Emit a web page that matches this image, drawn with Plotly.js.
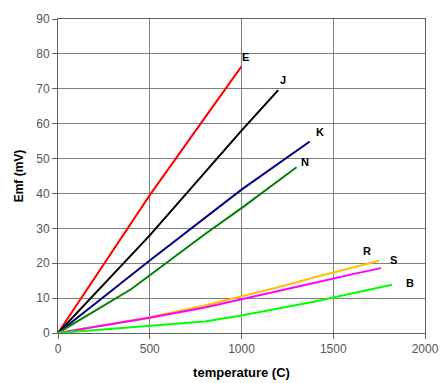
<!DOCTYPE html>
<html>
<head>
<meta charset="utf-8">
<script src="https://cdn.plot.ly/plotly-3.0.1.min.js"></script>
<style>html,body{margin:0;padding:0;background:#fff;}#chart{width:440px;height:383px;}</style>
</head>
<body>
<div id="chart"></div>
<script>
// Thermocouple EMF (mV) vs temperature (C)
const names = ["E", "J", "K", "N", "R", "S", "B"];
const tempE = [0, 500, 1000];
const emfE  = [0, 39.5, 76.4];
const tempJ = [0, 500, 1000, 1200];
const emfJ  = [0, 28.0, 58.0, 69.6];
const tempK = [0, 500, 1000, 1372];
const emfK  = [0, 20.8, 41.1, 54.9];
const tempN = [0, 400, 800, 1000, 1300];
const emfN  = [0, 12.6, 28.3, 35.8, 47.5];
const tempR = [0, 500, 800, 1000, 1200, 1400, 1600, 1750];
const emfR  = [0, 4.5, 7.9, 10.4, 13.1, 16.0, 18.8, 20.7];
const tempS = [0, 500, 800, 1000, 1200, 1400, 1600, 1760];
const emfS  = [0, 4.4, 7.3, 9.6, 12.0, 14.4, 16.8, 18.6];
const tempB = [0, 800, 1000, 1200, 1400, 1600, 1820];
const emfB  = [0, 3.3, 5.0, 6.9, 9.0, 11.3, 13.8];

const temps = [tempE, tempJ, tempK, tempN, tempR, tempS, tempB];
const emfs  = [emfE, emfJ, emfK, emfN, emfR, emfS, emfB];
const colors = ["#ff0000", "#000000", "#000080", "#008000", "#ffc000", "#ff00ff", "#00ff00"];
const labelShift = [[4, 9], [5, 10], [10, 9], [8, 5], [-12, 10], [13, 8], [18, 2]];

const xTicks = [0, 500, 1000, 1500, 2000];
const yTicks = [0, 10, 20, 30, 40, 50, 60, 70, 80, 90];
const FONT = "Liberation Sans, Arial, sans-serif";

const traces = names.map((n, i) => ({
  type: "scatter", mode: "lines", name: n,
  x: temps[i], y: emfs[i],
  line: {color: colors[i], width: 2},
  hoverinfo: "skip"
}));

const annotations = names.map((n, i) => ({
  x: temps[i][temps[i].length - 1],
  y: emfs[i][emfs[i].length - 1],
  xref: "x", yref: "y",
  text: "<b>" + n + "</b>",
  showarrow: false,
  xshift: labelShift[i][0], yshift: labelShift[i][1],
  font: {family: FONT, size: 11, color: "#000"}
}));

const axisCommon = {
  showgrid: true, gridcolor: "#808080", gridwidth: 1,
  showline: true, linecolor: "#606060", linewidth: 1, mirror: true,
  ticks: "outside", ticklen: 5, tickcolor: "#606060",
  zeroline: false,
  tickfont: {family: FONT, size: 12, color: "#555"}
};

const layout = {
  width: 440, height: 383,
  margin: {l: 58, r: 15, t: 19, b: 50},
  paper_bgcolor: "#fff", plot_bgcolor: "#fff",
  showlegend: false,
  xaxis: Object.assign({}, axisCommon, {
    range: [0, 2000], tickvals: xTicks, ticktext: xTicks.map(String),
    title: {text: "<b>temperature (C)</b>", standoff: 12,
      font: {family: FONT, size: 13, color: "#000"}}
  }),
  yaxis: Object.assign({}, axisCommon, {
    range: [0, 90], tickvals: yTicks, ticktext: yTicks.map(String),
    title: {text: "<b>Emf (mV)</b>", standoff: 10,
      font: {family: FONT, size: 12, color: "#000"}}
  }),
  annotations: annotations
};

Plotly.newPlot("chart", traces, layout, {staticPlot: true, displayModeBar: false});
</script>
</body>
</html>
